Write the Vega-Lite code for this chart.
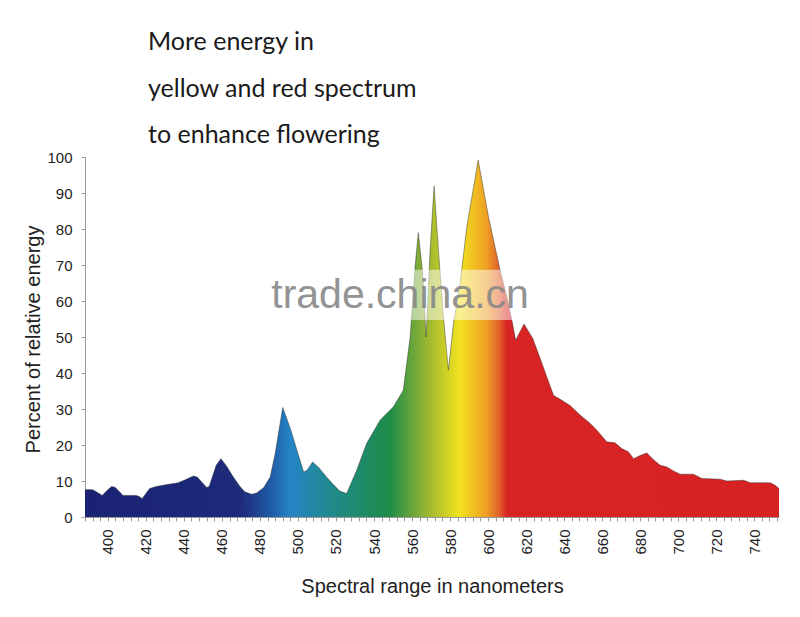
{
  "$schema": "https://vega.github.io/schema/vega-lite/v6.json",
  "width": 694,
  "height": 360,
  "autosize": "none",
  "padding": {"left": 85, "top": 157, "right": 21, "bottom": 100},
  "background": "white",
  "title": {
    "text": ["More energy in", "yellow and red spectrum", "to enhance flowering"],
    "anchor": "start",
    "frame": "group",
    "font": "Lato",
    "fontSize": 25,
    "fontWeight": "normal",
    "color": "#1a1a1a",
    "lineHeight": 46.5,
    "dx": 63,
    "offset": 2
  },
  "config": {
    "view": {"stroke": null},
    "axis": {
      "labelFont": "Liberation Sans",
      "titleFont": "Liberation Sans",
      "labelColor": "#222222",
      "titleColor": "#222222",
      "labelFontSize": 15,
      "titleFontSize": 20,
      "titleFontWeight": "normal",
      "domainColor": "#9a9a9a",
      "tickColor": "#9a9a9a",
      "grid": false
    }
  },
  "data": {
    "values": [
      {"nm": 388, "energy": 7.6}, {"nm": 392, "energy": 7.6}, {"nm": 394, "energy": 7.0},
      {"nm": 397, "energy": 6.0}, {"nm": 400, "energy": 7.6}, {"nm": 402, "energy": 8.5},
      {"nm": 404, "energy": 8.2}, {"nm": 408, "energy": 6.0}, {"nm": 415, "energy": 6.0},
      {"nm": 416.5, "energy": 5.7}, {"nm": 418, "energy": 5.1}, {"nm": 422, "energy": 7.9},
      {"nm": 425.5, "energy": 8.5}, {"nm": 432, "energy": 9.1}, {"nm": 437, "energy": 9.5},
      {"nm": 441, "energy": 10.4}, {"nm": 445, "energy": 11.4}, {"nm": 447, "energy": 11.1},
      {"nm": 452, "energy": 8.2}, {"nm": 453.3, "energy": 8.5}, {"nm": 457, "energy": 14.4},
      {"nm": 459.5, "energy": 16.2}, {"nm": 462.5, "energy": 14.1}, {"nm": 466, "energy": 11.1},
      {"nm": 469.5, "energy": 8.5}, {"nm": 472, "energy": 7.0}, {"nm": 475.7, "energy": 6.3},
      {"nm": 478.3, "energy": 6.7}, {"nm": 482, "energy": 8.2}, {"nm": 485.4, "energy": 11.1},
      {"nm": 488, "energy": 17.6}, {"nm": 492, "energy": 30.4}, {"nm": 496, "energy": 24.6},
      {"nm": 499.5, "energy": 18.5}, {"nm": 503, "energy": 12.5}, {"nm": 504.8, "energy": 13.0},
      {"nm": 507.7, "energy": 15.3}, {"nm": 511, "energy": 13.7}, {"nm": 515, "energy": 11.1},
      {"nm": 519, "energy": 8.8}, {"nm": 522, "energy": 7.2}, {"nm": 525.6, "energy": 6.5},
      {"nm": 530.9, "energy": 13.0}, {"nm": 536.1, "energy": 20.4}, {"nm": 543.2, "energy": 26.9},
      {"nm": 550.2, "energy": 30.6}, {"nm": 555.4, "energy": 35.2}, {"nm": 559, "energy": 50.0},
      {"nm": 561.6, "energy": 69.5}, {"nm": 563.3, "energy": 79.0}, {"nm": 565.6, "energy": 67.7},
      {"nm": 567.4, "energy": 50.0}, {"nm": 569.5, "energy": 74.0}, {"nm": 571.6, "energy": 91.9},
      {"nm": 573.9, "energy": 74.0}, {"nm": 576.5, "energy": 55.6}, {"nm": 579.1, "energy": 40.8},
      {"nm": 581.8, "energy": 53.8}, {"nm": 585.3, "energy": 64.9}, {"nm": 588.8, "energy": 80.6},
      {"nm": 594.8, "energy": 99.1}, {"nm": 600.2, "energy": 83.4}, {"nm": 606.3, "energy": 68.6},
      {"nm": 609.8, "energy": 61.2}, {"nm": 612.5, "energy": 54.7}, {"nm": 614.5, "energy": 49.1},
      {"nm": 618.9, "energy": 53.6}, {"nm": 623.5, "energy": 49.6}, {"nm": 627.4, "energy": 44.0},
      {"nm": 630.9, "energy": 38.9}, {"nm": 634.4, "energy": 33.8}, {"nm": 638.8, "energy": 32.4},
      {"nm": 643.1, "energy": 31.0}, {"nm": 648.4, "energy": 28.3}, {"nm": 653.7, "energy": 26.0},
      {"nm": 657.2, "energy": 24.1}, {"nm": 662.4, "energy": 20.9}, {"nm": 666.8, "energy": 20.6},
      {"nm": 670.3, "energy": 19.0}, {"nm": 673.8, "energy": 18.1}, {"nm": 676.5, "energy": 16.2},
      {"nm": 680, "energy": 17.1}, {"nm": 683.5, "energy": 17.8}, {"nm": 687, "energy": 15.9},
      {"nm": 690.5, "energy": 14.4}, {"nm": 694, "energy": 13.9}, {"nm": 697.5, "energy": 12.8},
      {"nm": 701, "energy": 11.9}, {"nm": 708, "energy": 11.9}, {"nm": 712.4, "energy": 10.7},
      {"nm": 722.1, "energy": 10.5}, {"nm": 725.6, "energy": 10.0}, {"nm": 734.4, "energy": 10.2},
      {"nm": 737.9, "energy": 9.5}, {"nm": 748.4, "energy": 9.5}, {"nm": 751, "energy": 8.8},
      {"nm": 753, "energy": 7.9}
    ]
  },
  "encoding": {
    "x": {
      "field": "nm",
      "type": "quantitative",
      "scale": {"domain": [388, 753], "nice": false, "zero": false},
      "axis": {
        "title": "Spectral range in nanometers",
        "values": [388, 392, 396, 400, 404, 408, 412, 416, 420, 424, 428, 432, 436, 440, 444, 448, 452, 456, 460, 464, 468, 472, 476, 480, 484, 488, 492, 496, 500, 504, 508, 512, 516, 520, 524, 528, 532, 536, 540, 544, 548, 552, 556, 560, 564, 568, 572, 576, 580, 584, 588, 592, 596, 600, 604, 608, 612, 616, 620, 624, 628, 632, 636, 640, 644, 648, 652, 656, 660, 664, 668, 672, 676, 680, 684, 688, 692, 696, 700, 704, 708, 712, 716, 720, 724, 728, 732, 736, 740, 744, 748, 752],
        "labelExpr": "datum.value % 20 == 0 ? datum.label : ''",
        "labelOverlap": false,
        "labelAngle": -90,
        "labelPadding": 8,
        "tickSize": 4,
        "titleY": 75,
        "titleBaseline": "alphabetic"
      }
    },
    "y": {
      "field": "energy",
      "type": "quantitative",
      "scale": {"domain": [0, 100], "nice": false},
      "axis": {
        "title": "Percent of relative energy",
        "values": [0, 10, 20, 30, 40, 50, 60, 70, 80, 90, 100],
        "tickSize": 4,
        "labelPadding": 9,
        "titleX": -46,
        "titleY": 182,
        "titleAngle": -90,
        "titleBaseline": "alphabetic",
        "titleAlign": "center"
      }
    }
  },
  "layer": [
    {
      "mark": {
        "type": "area",
        "interpolate": "linear",
        "fillOpacity": 1,
        "fill": {
          "gradient": "linear",
          "x1": 0, "x2": 1, "y1": 0, "y2": 0,
          "stops": [
            {"offset": 0, "color": "#1b2273"},
            {"offset": 0.225, "color": "#1e2a7a"},
            {"offset": 0.27, "color": "#1f5ea8"},
            {"offset": 0.296, "color": "#2585c5"},
            {"offset": 0.354, "color": "#1f8a8c"},
            {"offset": 0.439, "color": "#1e8c48"},
            {"offset": 0.493, "color": "#9ab632"},
            {"offset": 0.54, "color": "#f2e21e"},
            {"offset": 0.578, "color": "#eea024"},
            {"offset": 0.597, "color": "#e0602a"},
            {"offset": 0.608, "color": "#d82424"},
            {"offset": 1, "color": "#d62222"}
          ]
        }
      }
    },
    {
      "mark": {"type": "line", "interpolate": "linear", "stroke": "#2a2a2a", "strokeWidth": 0.8, "opacity": 0.55}
    },
    {
      "data": {"values": [{"x1": 485, "x2": 622, "y1": 54.7, "y2": 68.7}]},
      "mark": {"type": "rect", "fill": "white", "opacity": 0.5},
      "encoding": {
        "x": {"field": "x1", "type": "quantitative"},
        "x2": {"field": "x2"},
        "y": {"field": "y1", "type": "quantitative"},
        "y2": {"field": "y2"}
      }
    },
    {
      "data": {"values": [{"x": 553.7, "y": 61.4, "label": "trade.china.cn"}]},
      "mark": {"type": "text", "font": "Liberation Sans", "fontSize": 41, "color": "#888888", "opacity": 0.9, "align": "center", "baseline": "middle"},
      "encoding": {
        "x": {"field": "x", "type": "quantitative"},
        "y": {"field": "y", "type": "quantitative"},
        "text": {"field": "label"}
      }
    }
  ]
}
